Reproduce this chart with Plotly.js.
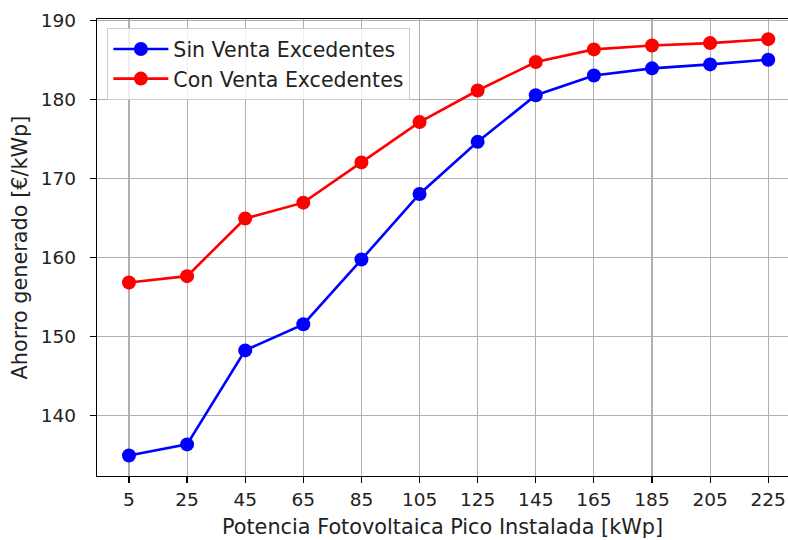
<!DOCTYPE html>
<html>
<head>
<meta charset="utf-8">
<script src="https://cdn.plot.ly/plotly-3.0.1.min.js"></script>
<style>html,body{margin:0;padding:0;background:#fff;}#chart{width:788px;height:540px;}</style>
</head>
<body>
<div id="chart"></div>
<script>
const potencia = [5, 25, 45, 65, 85, 105, 125, 145, 165, 185, 205, 225];
const sinVenta = [134.9, 136.3, 148.2, 151.5, 159.7, 168.0, 174.6, 180.5, 183.0, 183.9, 184.4, 185.0];
const conVenta = [156.8, 157.6, 164.9, 166.9, 172.0, 177.1, 181.1, 184.7, 186.3, 186.8, 187.1, 187.6];
const xTickLabels = ["5","25","45","65","85","105","125","145","165","185","205","225"];
const yTicks = [140, 150, 160, 170, 180, 190];

const tickFont = {family: "DejaVu Sans", size: 18.5, color: "#222"};
const textFont = {family: "DejaVu Sans", size: 20.8, color: "#222"};
const legendFont = {family: "DejaVu Sans", size: 20.5, color: "#222"};

const traces = [
  {x: potencia, y: sinVenta, name: "Sin Venta Excedentes", mode: "lines+markers",
   line: {color: "#0000ff", width: 2.6}, marker: {color: "#0000ff", size: 14}},
  {x: potencia, y: conVenta, name: "Con Venta Excedentes", mode: "lines+markers",
   line: {color: "#ff0000", width: 2.6}, marker: {color: "#ff0000", size: 14}}
];

const layout = {
  width: 788, height: 540,
  margin: {l: 97, r: 0, t: 19, b: 64},
  paper_bgcolor: "#fff", plot_bgcolor: "#fff",
  font: textFont,
  showlegend: true,
  legend: {x: 0.015, y: 0.98, xanchor: "left", yanchor: "top",
    bgcolor: "rgba(255,255,255,0.8)", bordercolor: "#cccccc", borderwidth: 1,
    itemwidth: 55, font: legendFont},
  xaxis: {
    range: [-6, 231.8], tickmode: "array", tickvals: potencia, ticktext: xTickLabels,
    showgrid: true, gridcolor: "#b0b0b0", gridwidth: 1.1,
    showline: true, linecolor: "#000", linewidth: 1.3, mirror: true,
    ticks: "outside", ticklen: 6, tickcolor: "#000", tickwidth: 1.2,
    zeroline: false, tickfont: tickFont,
    title: {text: "Potencia Fotovoltaica Pico Instalada [kWp]", font: textFont, standoff: 11}
  },
  yaxis: {
    range: [132.3, 190.15], tickmode: "array", tickvals: yTicks,
    showgrid: true, gridcolor: "#b0b0b0", gridwidth: 1.1,
    showline: true, linecolor: "#000", linewidth: 1.3,
    ticks: "outside", ticklen: 6, tickcolor: "#000", tickwidth: 1.2,
    ticklabelstandoff: 10,
    zeroline: false, tickfont: tickFont,
    title: {text: "Ahorro generado [€/kWp]", font: textFont, standoff: 7}
  }
};

Plotly.newPlot("chart", traces, layout, {displayModeBar: false, staticPlot: true});
</script>
</body>
</html>
